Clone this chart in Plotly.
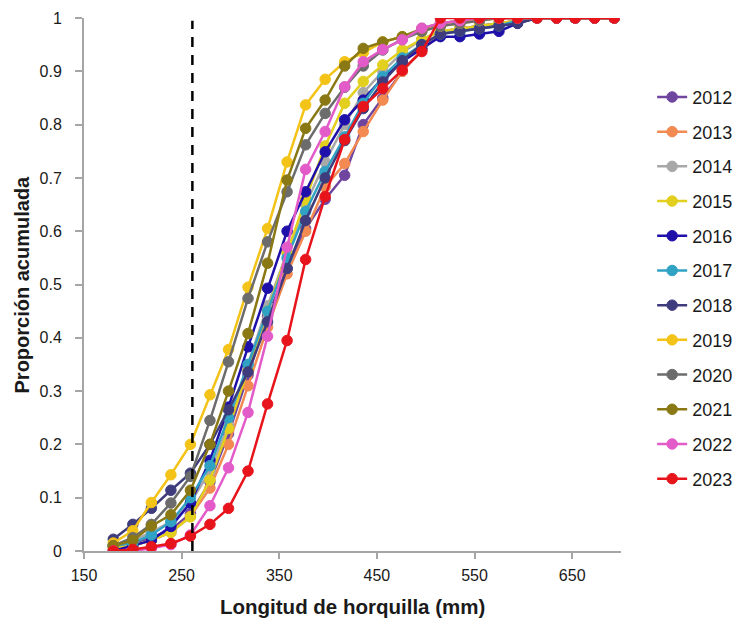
import plotly.graph_objects as go

# Fork length (mm) class marks
longitud = [180, 200, 219, 239, 259, 279, 298, 318, 338, 358, 377, 397, 417, 436,
            456, 476, 496, 515, 535, 555, 575, 594, 614, 634, 653, 673, 693]

years = ["2012", "2013", "2014", "2015", "2016", "2017",
         "2018", "2019", "2020", "2021", "2022", "2023"]

y2012 = [0.01, 0.015, 0.025, 0.04, 0.07, 0.13, 0.22, 0.33, 0.44, 0.53, 0.605, 0.66, 0.705, 0.80,
         0.85, 0.90, 0.94, 0.97, 0.98, 0.985, 0.99, 0.995, 1, 1, 1, 1, 1]
y2013 = [0.005, 0.01, 0.02, 0.035, 0.065, 0.118, 0.20, 0.31, 0.42, 0.52, 0.60, 0.683, 0.727, 0.787,
         0.846, 0.90, 0.94, 0.97, 0.98, 0.985, 0.99, 0.995, 1, 1, 1, 1, 1]
y2014 = [0.01, 0.02, 0.035, 0.055, 0.09, 0.15, 0.235, 0.35, 0.46, 0.56, 0.65, 0.73, 0.80, 0.86,
         0.90, 0.935, 0.96, 0.975, 0.98, 0.985, 0.99, 0.995, 1, 1, 1, 1, 1]
y2015 = [0.005, 0.01, 0.02, 0.035, 0.064, 0.133, 0.23, 0.34, 0.45, 0.56, 0.66, 0.76, 0.84, 0.881,
         0.912, 0.94, 0.96, 0.975, 0.98, 0.985, 0.99, 0.995, 1, 1, 1, 1, 1]
y2016 = [0.0, 0.01, 0.02, 0.046, 0.09, 0.17, 0.27, 0.383, 0.493, 0.60, 0.674, 0.749, 0.809, 0.846,
         0.887, 0.918, 0.943, 0.965, 0.965, 0.97, 0.975, 0.99, 1, 1, 1, 1, 1]
y2017 = [0.01, 0.015, 0.03, 0.055, 0.10, 0.16, 0.25, 0.35, 0.45, 0.55, 0.637, 0.712, 0.777, 0.84,
         0.89, 0.925, 0.95, 0.97, 0.975, 0.98, 0.985, 0.995, 1, 1, 1, 1, 1]
y2018 = [0.022, 0.05, 0.08, 0.114, 0.146, 0.20, 0.265, 0.336, 0.43, 0.53, 0.62, 0.70, 0.77, 0.83,
         0.88, 0.92, 0.95, 0.97, 0.975, 0.98, 0.985, 0.99, 1, 1, 1, 1, 1]
y2019 = [0.015, 0.038, 0.091, 0.143, 0.20, 0.293, 0.378, 0.495, 0.605, 0.73, 0.837, 0.885, 0.918, 0.935,
         0.955, 0.965, 0.975, 0.985, 0.99, 0.995, 1, 1, 1, 1, 1, 1, 1]
y2020 = [0.01, 0.025, 0.05, 0.09, 0.14, 0.245, 0.355, 0.474, 0.58, 0.674, 0.762, 0.821, 0.87, 0.91,
         0.94, 0.96, 0.975, 0.985, 0.99, 0.995, 1, 1, 1, 1, 1, 1, 1]
y2021 = [0.01, 0.02, 0.047, 0.068, 0.114, 0.20, 0.30, 0.408, 0.54, 0.696, 0.793, 0.846, 0.91, 0.943,
         0.955, 0.965, 0.98, 0.99, 0.995, 1, 1, 1, 1, 1, 1, 1, 1]
y2022 = [0.0, 0.0, 0.005, 0.012, 0.03, 0.085, 0.156, 0.26, 0.403, 0.57, 0.716, 0.787, 0.871, 0.918,
         0.941, 0.959, 0.981, 0.99, 0.995, 1, 1, 1, 1, 1, 1, 1, 1]
y2023 = [0.0, 0.003, 0.008, 0.014, 0.028, 0.05, 0.08, 0.15, 0.276, 0.395, 0.547, 0.665, 0.772, 0.834,
         0.868, 0.902, 0.937, 1, 1, 1, 1, 1, 1, 1, 1, 1, 1]

series = [y2012, y2013, y2014, y2015, y2016, y2017, y2018, y2019, y2020, y2021, y2022, y2023]
colors = ["#6f45a0", "#f28a52", "#a8a8a8", "#e2cf1e", "#2010aa", "#30a2c4",
          "#3e3c7c", "#f4c318", "#6c6c6c", "#8a7814", "#e35bc9", "#e8141c"]

tick_vals_x = [150, 250, 350, 450, 550, 650]
tick_vals_y = [0, 0.1, 0.2, 0.3, 0.4, 0.5, 0.6, 0.7, 0.8, 0.9, 1]
tick_text_y = ["0", "0.1", "0.2", "0.3", "0.4", "0.5", "0.6", "0.7", "0.8", "0.9", "1"]
talla_referencia = 261

FONT = "Liberation Sans, Arial, sans-serif"
TXT = "#1a1a1a"

fig = go.Figure()
for yr, ys, c in zip(years, series, colors):
    fig.add_trace(go.Scatter(
        x=longitud, y=ys, name=yr, mode="lines+markers", legendgroup=yr,
        line=dict(color=c, width=2.5),
        marker=dict(color=c, size=10.5, line=dict(color=c, width=1)),
    ))

fig.add_shape(type="line", xref="x", yref="y",
              x0=talla_referencia, x1=talla_referencia, y0=0, y1=0.995,
              line=dict(color="black", width=2.5, dash="10px,8px"))

fig.add_annotation(text="<b>Longitud de horquilla (mm)</b>", xref="paper", yref="paper",
                   x=0.5, y=-0.105, xanchor="center", yanchor="middle", showarrow=False,
                   font=dict(size=20.5, family=FONT, color=TXT))
fig.add_annotation(text="<b>Proporción acumulada</b>", xref="paper", yref="paper",
                   x=-0.1155, y=0.5, xanchor="center", yanchor="middle", showarrow=False,
                   textangle=-90, font=dict(size=20, family=FONT, color=TXT))

# the page body adds an 8px offset, so margins are reduced by 8px at top and left
fig.update_layout(
    width=746, height=624,
    margin=dict(l=76, r=133, t=10, b=81, autoexpand=False),
    paper_bgcolor="white", plot_bgcolor="white",
    font=dict(family=FONT, color=TXT),
    showlegend=True,
    legend=dict(x=1.058, xanchor="left", y=0.886, yanchor="top",
                font=dict(size=18, family=FONT, color=TXT),
                itemwidth=30, tracegroupgap=8.3, bgcolor="rgba(0,0,0,0)"),
    xaxis=dict(range=[150, 700], tickvals=tick_vals_x, showgrid=False, zeroline=False,
               showline=True, linecolor="#a6a6a6", linewidth=2, automargin=False,
               ticks="outside", ticklen=6, tickcolor="#a6a6a6", tickwidth=2,
               ticklabelstandoff=3,
               tickfont=dict(size=16, family=FONT, color=TXT)),
    yaxis=dict(range=[0, 1], tickvals=tick_vals_y, ticktext=tick_text_y, showgrid=False,
               zeroline=False, showline=True, linecolor="#a6a6a6", linewidth=2, automargin=False,
               ticks="outside", ticklen=7, tickcolor="#a6a6a6", tickwidth=2,
               ticklabelstandoff=10,
               tickfont=dict(size=16, family=FONT, color=TXT)),
)

fig.write_html("out.html")
